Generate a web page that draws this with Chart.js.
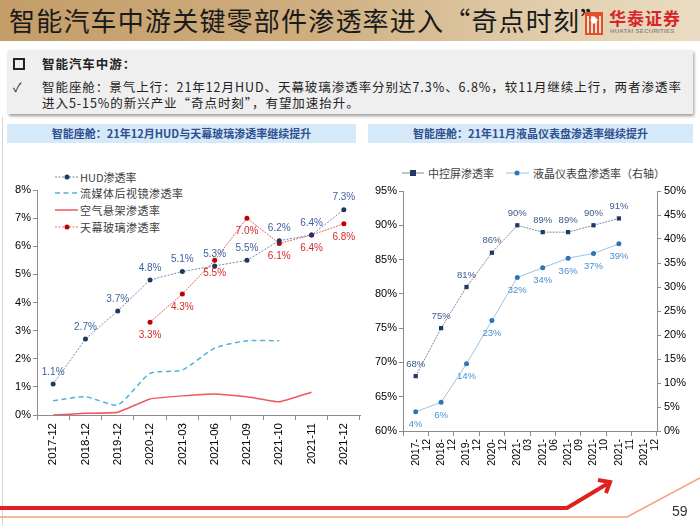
<!DOCTYPE html>
<html lang="zh-CN">
<head>
<meta charset="UTF-8">
<title>智能汽车中游关键零部件渗透率</title>
<script src="https://cdn.jsdelivr.net/npm/chart.js"></script>
<style>
  body { margin: 0; width: 700px; height: 525px; position: relative; overflow: hidden; background: #fff;
         font-family: "Noto Sans CJK SC", sans-serif; }
  .abs { position: absolute; white-space: nowrap; }
  #header { left: 0; top: 0; width: 700px; height: 41px;
            background: linear-gradient(to right, #c49d68 0%, #cfae80 45%, #e2cfae 80%, #eadcc3 100%); }
  #title { left: 9px; top: 3px; font-size: 26px; line-height: 34px; letter-spacing: 1.2px; color: #1a1a1a; }
  #logoBox { left: 585px; top: 12px; width: 18px; height: 23px; background: #e2502a; }
  #logoCn { left: 609px; top: 5px; font-size: 17px; font-weight: bold; color: #d8242a; letter-spacing: 1px; }
  #logoEn { left: 610px; top: 28px; font-family: "Liberation Sans", Arial, sans-serif; font-size: 6px; font-weight: bold; color: #8a8a8a; letter-spacing: 0.3px; }
  #noteBox { left: 8px; top: 50px; width: 685px; height: 64px; background: #efefef; box-shadow: 1px 2px 3px #9a9a9a; }
  .note { font-size: 12.5px; color: #222; letter-spacing: 0.95px; }
  .sub { height: 19px; top: 124px; background: #d6e9f8; color: #2e4f8f; font-size: 11px; font-weight: bold;
         text-align: center; line-height: 19px; }
  .legend { font-size: 11px; color: #404040; line-height: 14px; }
  canvas { position: absolute; }
</style>
</head>
<body>
<div id="header" class="abs"></div>
<div id="title" class="abs">智能汽车中游关键零部件渗透率进入“奇点时刻”</div>
<div id="logoBox" class="abs"></div>
<svg class="abs" style="left:585px;top:12px" width="18" height="23">
  <path d="M3 4 L3 21 M7 4 L7 21 M11 8 L11 21 M15 4 L15 21" stroke="#fff" stroke-width="1.6"/>
  <path d="M5 8 L9 4 L13 8 L9 12 Z" fill="#fff"/>
</svg>
<div id="logoCn" class="abs">华泰证券</div>
<div id="logoEn" class="abs">HUATAI SECURITIES</div>

<div id="noteBox" class="abs"></div>
<div class="abs" style="left:13px;top:58px;width:8px;height:8px;border:2px solid #222;"></div>
<div class="abs note" style="left:42px;top:54px;font-weight:bold;">智能汽车中游：</div>
<div class="abs note" style="left:13px;top:77px;">✓</div>
<div class="abs note" style="left:42px;top:77px;">智能座舱：景气上行：21年12月HUD、天幕玻璃渗透率分别达7.3%、6.8%，较11月继续上行，两者渗透率</div>
<div class="abs note" style="left:42px;top:93px;">进入5-15%的新兴产业“奇点时刻”，有望加速抬升。</div>

<div class="abs" style="left:2px;top:117px;width:1px;height:408px;background:#d4d4d4;"></div>
<div class="abs sub" style="left:7px;width:349px;">智能座舱：21年12月HUD与天幕玻璃渗透率继续提升</div>
<div class="abs sub" style="left:368px;width:325px;">智能座舱：21年11月液晶仪表盘渗透率继续提升</div>

<!-- left legend -->
<svg class="abs" style="left:54px;top:170px" width="26" height="64">
  <line x1="1" y1="7" x2="24" y2="7" stroke="#7185ad" stroke-width="1" stroke-dasharray="2 1.5"/>
  <circle cx="13" cy="7" r="2.5" fill="#1f3864"/>
  <line x1="1" y1="23" x2="24" y2="23" stroke="#4fb3d9" stroke-width="1.5" stroke-dasharray="5 3.5"/>
  <line x1="1" y1="40" x2="24" y2="40" stroke="#f0575c" stroke-width="1.5"/>
  <line x1="1" y1="57" x2="24" y2="57" stroke="#e46a6a" stroke-width="1" stroke-dasharray="2 1.5"/>
  <circle cx="13" cy="57" r="2.5" fill="#c00000"/>
</svg>
<div class="abs legend" style="left:80px;top:170px;">HUD渗透率</div>
<div class="abs legend" style="left:80px;top:186px;letter-spacing:0.5px;">流媒体后视镜渗透率</div>
<div class="abs legend" style="left:80px;top:203px;letter-spacing:0.5px;">空气悬架渗透率</div>
<div class="abs legend" style="left:80px;top:220px;letter-spacing:0.5px;">天幕玻璃渗透率</div>

<!-- right legend -->
<svg class="abs" style="left:401px;top:166px" width="130" height="14">
  <line x1="1" y1="7" x2="23" y2="7" stroke="#7f8aa0" stroke-width="1"/>
  <rect x="9" y="4" width="6" height="6" fill="#1f3864"/>
  <line x1="105" y1="7" x2="128" y2="7" stroke="#9dc3e6" stroke-width="1"/>
  <circle cx="116" cy="7" r="2.5" fill="#2e75b6"/>
</svg>
<div class="abs legend" style="left:428px;top:166px;">中控屏渗透率</div>
<div class="abs legend" style="left:533px;top:166px;">液晶仪表盘渗透率（右轴）</div>

<canvas id="leftChart" width="364" height="330" style="left:0;top:150px;"></canvas>
<canvas id="rightChart" width="336" height="340" style="left:364px;top:150px;"></canvas>

<svg class="abs" style="left:0;top:470px" width="700" height="55">
  <polyline points="0,47 627,47 700,8" stroke="#f3a07e" stroke-width="1.5" fill="none"/>
  <polyline points="0,38 567,38 607,14" stroke="#e01f1f" stroke-width="4" fill="none"/>
  <polyline points="598,10 610,12 606,23" stroke="#e01f1f" stroke-width="4" fill="none"/>
</svg>
<div class="abs" style="left:672px;top:503px;font-family:'Liberation Sans',Arial,sans-serif;font-size:14px;color:#333;">59</div>

<script>
const dates = ['2017-12', '2018-12', '2019-12', '2020-12', '2021-03', '2021-06', '2021-09', '2021-10', '2021-11', '2021-12'];

// left chart (%)
const hudRate = [1.1, 2.7, 3.7, 4.8, 5.1, 5.3, 5.5, 6.2, 6.4, 7.3];
const mirrorRate = [0.51, 0.65, 0.36, 1.48, 1.6, 2.38, 2.64, 2.64, null, null];
const airSuspRate = [0, 0.06, 0.1, 0.57, 0.68, 0.75, 0.65, 0.47, 0.81, null];
const skyGlassRate = [null, null, null, 3.3, 4.3, 5.5, 7.0, 6.1, 6.4, 6.8];

// right chart (%)
const centerScreenRate = [68, 75, 81, 86, 90, 89, 89, 90, 91, null];
const lcdClusterRate = [4, 6, 14, 23, 32, 34, 36, 37, 39, null];

Chart.defaults.font.family = '"Liberation Sans", Arial, sans-serif';

// value labels next to the points
const valueLabels = {
  id: 'valueLabels',
  afterDatasetsDraw(chart) {
    const ctx = chart.ctx;
    chart.data.datasets.forEach((ds, i) => {
      if (!ds.labelPos) return;
      const meta = chart.getDatasetMeta(i);
      ctx.save();
      ctx.font = ds.labelFont;
      ctx.fillStyle = ds.labelColor;
      ctx.textAlign = 'center';
      ctx.textBaseline = 'middle';
      meta.data.forEach((pt, j) => {
        const v = ds.data[j];
        if (v == null) return;
        const dy = ds.labelPos === 'above' ? -12 : 13;
        ctx.fillText(ds.labelFmt(v), pt.x, pt.y + dy);
      });
      ctx.restore();
    });
  }
};

const axisGrey = '#8c8c8c';

new Chart(document.getElementById('leftChart'), {
  type: 'line',
  data: {
    labels: dates,
    datasets: [
      { label: '流媒体后视镜渗透率', data: mirrorRate, borderColor: '#4fb3d9', borderWidth: 1.5,
        borderDash: [5, 3.5], pointRadius: 0, tension: 0.2 },
      { label: '空气悬架渗透率', data: airSuspRate, borderColor: '#f0575c', borderWidth: 1.5,
        pointRadius: 0, tension: 0.1 },
      { label: 'HUD渗透率', data: hudRate, borderColor: '#7185ad', borderWidth: 1, borderDash: [2, 1.5],
        pointRadius: 2.5, pointBorderWidth: 0, pointBackgroundColor: '#1f3864',
        labelPos: 'above', labelColor: '#3d5f9e', labelFont: '10px "Liberation Sans", Arial',
        labelFmt: v => v.toFixed(1) + '%' },
      { label: '天幕玻璃渗透率', data: skyGlassRate, borderColor: '#e46a6a', borderWidth: 1, borderDash: [2, 1],
        pointRadius: 2.5, pointBorderWidth: 0, pointBackgroundColor: '#c00000',
        labelPos: 'below', labelColor: '#d42a2a', labelFont: '10px "Liberation Sans", Arial',
        labelFmt: v => v.toFixed(1) + '%' }
    ]
  },
  options: {
    responsive: false,
    animation: false,
    layout: { padding: { top: 40, right: 4, left: 0, bottom: 0 } },
    plugins: { legend: { display: false }, tooltip: { enabled: false } },
    scales: {
      x: {
        offset: true,
        grid: { offset: true, drawOnChartArea: false, tickLength: 5, color: axisGrey },
        border: { color: axisGrey },
        ticks: { autoSkip: false, maxRotation: 90, minRotation: 90, color: '#000', font: { size: 11.5 }, padding: 3 },
        afterFit: s => { s.height = 65; }
      },
      y: {
        min: 0, max: 8,
        grid: { drawOnChartArea: false, tickLength: 4, color: axisGrey },
        border: { color: axisGrey },
        ticks: { stepSize: 1, color: '#000', font: { size: 11 }, padding: 2, callback: v => v + '%' },
        afterFit: s => { s.width = 37; }
      }
    }
  },
  plugins: [valueLabels]
});

new Chart(document.getElementById('rightChart'), {
  type: 'line',
  data: {
    labels: dates.map(d => { const p = d.split('-'); return [p[0] + '-', p[1]]; }),
    datasets: [
      { label: '中控屏渗透率', data: centerScreenRate, yAxisID: 'y', borderColor: '#7f8aa0', borderWidth: 1,
        borderDash: [2, 1], pointStyle: 'rect', pointRadius: 3, pointBorderWidth: 0, pointBackgroundColor: '#1f3864',
        labelPos: 'above', labelColor: '#3c5a8a', labelFont: '9.5px "Liberation Sans", Arial',
        labelFmt: v => Math.round(v) + '%' },
      { label: '液晶仪表盘渗透率（右轴）', data: lcdClusterRate, yAxisID: 'y1', borderColor: '#9dc3e6', borderWidth: 1,
        pointRadius: 2.5, pointBorderWidth: 0, pointBackgroundColor: '#2e75b6',
        labelPos: 'below', labelColor: '#4a8fd0', labelFont: '9.5px "Liberation Sans", Arial',
        labelFmt: v => Math.round(v) + '%' }
    ]
  },
  options: {
    responsive: false,
    animation: false,
    layout: { padding: { top: 41, right: 0, left: 0, bottom: 0 } },
    plugins: { legend: { display: false }, tooltip: { enabled: false } },
    scales: {
      x: {
        offset: true,
        grid: { offset: true, drawOnChartArea: false, tickLength: 5, color: axisGrey },
        border: { color: axisGrey },
        ticks: { autoSkip: false, maxRotation: 90, minRotation: 90, color: '#000',
                 font: { size: 10.5, lineHeight: 1.05 }, padding: 3 },
        afterFit: s => { s.height = 59; }
      },
      y: {
        position: 'left', min: 60, max: 95,
        grid: { drawOnChartArea: false, tickLength: 4, color: axisGrey },
        border: { color: axisGrey },
        ticks: { stepSize: 5, color: '#000', font: { size: 11 }, padding: 2, callback: v => v + '%' },
        afterFit: s => { s.width = 39; }
      },
      y1: {
        position: 'right', min: 0, max: 50,
        grid: { drawOnChartArea: false, tickLength: 4, color: axisGrey },
        border: { color: axisGrey },
        ticks: { stepSize: 5, color: '#000', font: { size: 11 }, padding: 3, callback: v => v + '%' },
        afterFit: s => { s.width = 43; }
      }
    }
  },
  plugins: [valueLabels]
});
</script>
</body>
</html>
